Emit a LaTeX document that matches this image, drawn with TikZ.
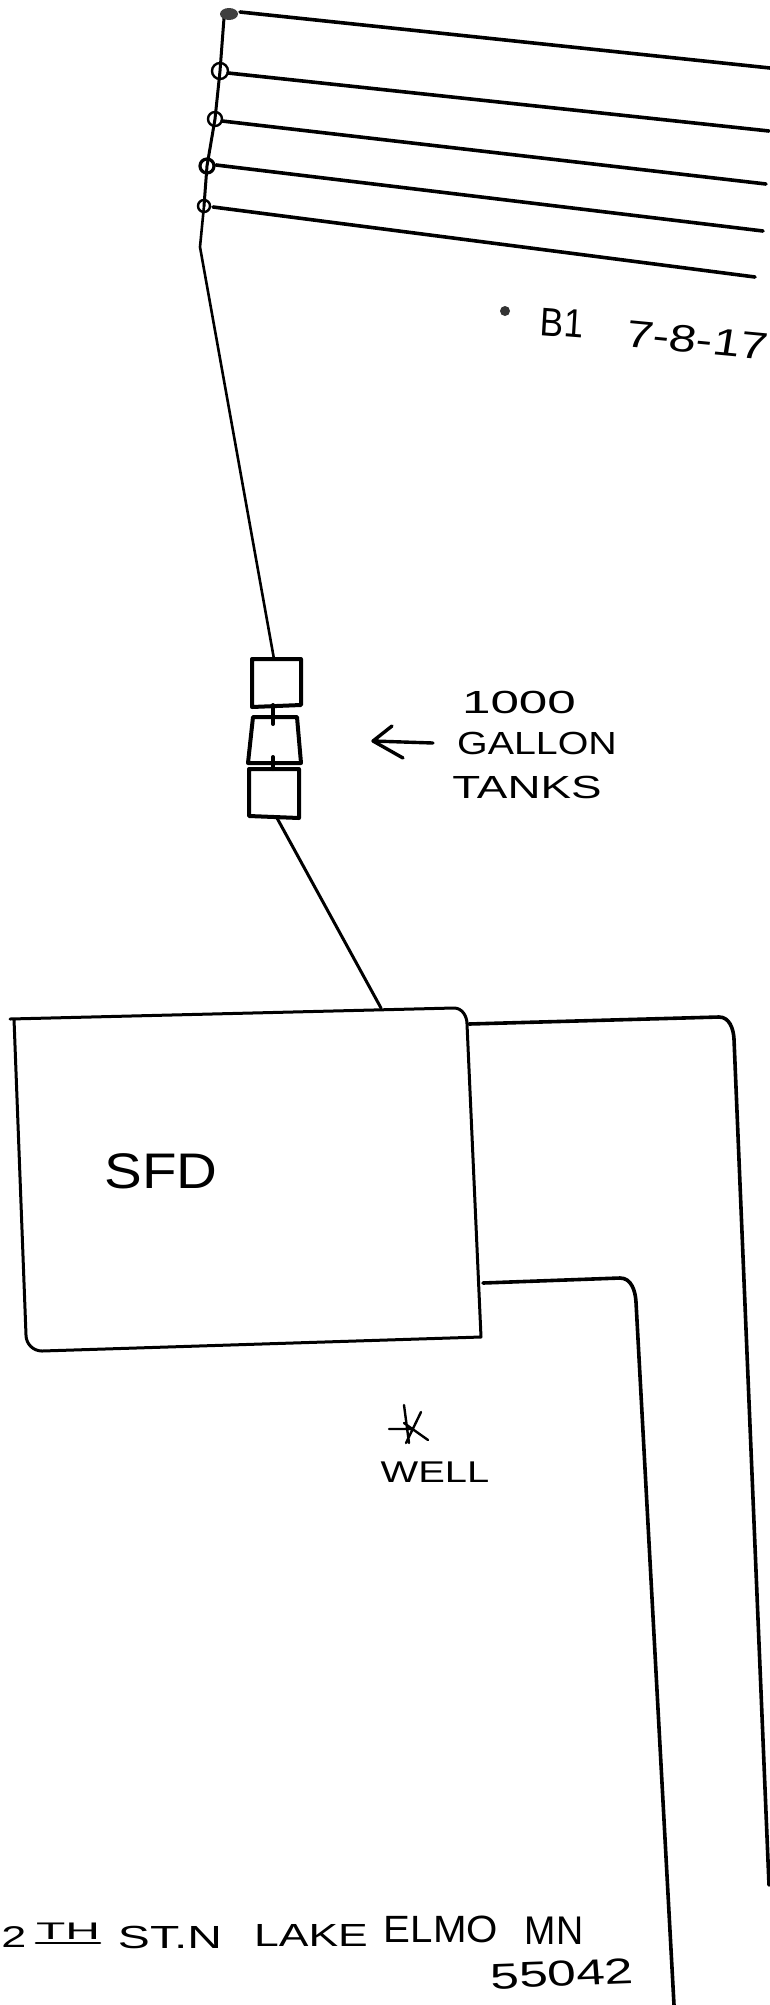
\documentclass[tikz,border=0pt]{standalone}
\usepackage{fontspec}
\setmainfont{Liberation Sans}
\tikzset{
  line/.style={draw=black,line width=2.6pt,line cap=round,line join=round},
  heavy line/.style={line,line width=3.6pt},
  tank/.style={line,line width=4pt,fill=white},
  hand/.style={inner sep=0pt,outer sep=0pt,anchor=center,text=black}
}
\newcommand{\hf}[1]{\fontsize{#1}{#1}\selectfont}
\begin{document}
\begin{tikzpicture}[x=1pt,y=-1pt]
\useasboundingbox (0,0) rectangle (770,2005);
\fill[white] (0,0) rectangle (770,2005);
% taps
\coordinate (c1) at (229,14);
\coordinate (c2) at (220,71);
\coordinate (c3) at (215,119);
\coordinate (c4) at (207,166);
\coordinate (c5) at (204,206);
\coordinate (c6) at (200,247);
\coordinate (e1) at (770,68);
\coordinate (e2) at (769,131);
\coordinate (e3) at (766,184);
\coordinate (e4) at (763,231);
\coordinate (e5) at (755,277);
\coordinate (t0) at (274,659);
\draw[line,line width=3pt] (224,18) -- (c2) -- (c3) -- (c4) -- (c5);
\draw[line] (c5) -- (c6) -- (t0);
\draw[heavy line] (240,12) -- (e1);
\draw[heavy line] (c2) ++(8,2) -- (e2);
\draw[heavy line] (c3) ++(7,2) -- (e3);
\draw[heavy line] (c4) ++(9,-1) -- (e4);
\draw[heavy line] (c5) ++(9,1) -- (e5);
\fill[black!75] (c1) ellipse [x radius=9,y radius=6];
\draw[line width=2.4pt] (c2) ellipse [x radius=8,y radius=8];
\draw[line width=2.4pt] (c3) ellipse [x radius=7,y radius=7];
\draw[line width=3.2pt] (c4) ellipse [x radius=7,y radius=7];
\draw[line width=2.4pt] (c5) ellipse [x radius=6,y radius=6];
% B1 label
\fill[black!80] (505,311) circle (5);
\node[hand,font=\hf{40},xscale=.88,rotate=-4] (bone) at (562,323) {B1};
\node[hand,font=\hf{38},xscale=1.3,rotate=-7] (date) at (697,340) {7-8-17};
% tanks
\draw[tank] (252,659) -- (301,659) -- (301,705) -- (252,707) -- cycle;
\draw[tank] (253,717) -- (297,717) -- (301,763) -- (248,763) -- cycle;
\draw[tank] (249,769) -- (299,769) -- (299,818) -- (249,816) -- cycle;
\draw[heavy line,line width=4pt] (273,705) -- (273,724);
\draw[heavy line,line width=4pt] (273,757) -- (273,769);
\coordinate (t1) at (277,818);
\coordinate (h0) at (381,1008);
\draw[line,line width=3pt] (t1) -- (h0);
% arrow
\coordinate (a0) at (433,743);
\coordinate (a1) at (373,741);
\draw[line,line width=3.4pt] (a0) -- (a1) (392,726) -- (a1) -- (403,758);
% tank label
\node[hand,font=\hf{32},xscale=1.6] (k1) at (519,702) {1000};
\node[hand,font=\hf{32},xscale=1.23] (k2) at (537,743) {GALLON};
\node[hand,font=\hf{32},xscale=1.43] (k3) at (527,787) {TANKS};
% house
\draw[line,line width=3pt] (10,1019) -- (454,1008) to[out=0,in=90] (467,1024) -- (481,1337) -- (42,1351) to[out=180,in=-90] (26,1335) -- (14,1019);
\node[hand,font=\hf{50},xscale=1.13] (sfd) at (161,1171) {SFD};
% pipes
\draw[heavy line] (469,1024) -- (719,1017) to[out=0,in=93] (734,1039) -- (769,1885);
\draw[heavy line] (483,1283) -- (620,1278) to[out=0,in=93] (636,1302) -- (674,2005);
% well
\node[hand,font=\hf{30},xscale=1.33] (wl) at (435,1472) {WELL};
\draw[line,line width=2.4pt] (404,1405) -- (409,1443) (421,1412) -- (406,1443) (389,1429) -- (411,1429) (404,1423) -- (428,1440);
% address
\node[hand,font=\hf{30},xscale=1.5] (a1t) at (14,1937) {2};
\node[hand,font=\hf{24},xscale=2] (a2t) at (68,1931) {TH};
\coordinate (u0) at (36,1943);
\coordinate (u1) at (100,1943);
\draw[line] (u0) -- (u1);
\node[hand,font=\hf{32},xscale=1.5] (a3t) at (170,1937) {ST.N};
\node[hand,font=\hf{32},xscale=1.39] (a4t) at (311,1935) {LAKE};
\node[hand,font=\hf{38},xscale=1.06] (a5t) at (441,1929) {ELMO};
\node[hand,font=\hf{40},xscale=.94] (a6t) at (554,1931) {MN};
\node[hand,font=\hf{36},xscale=1.43,rotate=3] (a7t) at (562,1974) {55042};
\end{tikzpicture}
\end{document}
